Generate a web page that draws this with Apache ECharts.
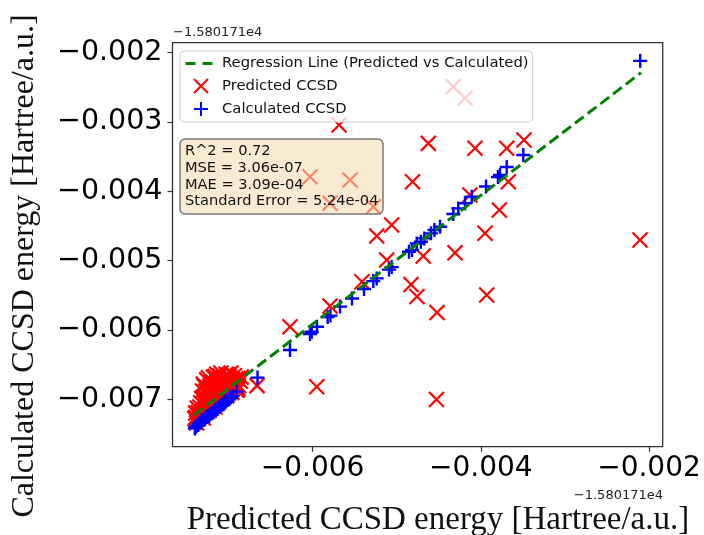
<!DOCTYPE html>
<html>
<head>
<meta charset="utf-8">
<script src="https://cdn.jsdelivr.net/npm/echarts@6/dist/echarts.min.js"></script>
<style>
  html, body { margin: 0; padding: 0; background: #fff; }
  #main { width: 704px; height: 535px; }
</style>
</head>
<body>
<div id="main"></div>
<script>
// values are relative to the offset -1.580171e4 Hartree
var xTicks = [-0.006, -0.004, -0.002];
var yTicks = [-0.007, -0.006, -0.005, -0.004, -0.003, -0.002];

// regression line end points (predicted vs calculated)
var regressionLine = [[-0.007412, -0.007228], [-0.002095, -0.002289]];

// predicted CCSD, scattered points
var predictedPoints = [
    [-0.004327, -0.002491], [-0.004188, -0.002658], [-0.005686, -0.003044], [-0.004624, -0.003308],
    [-0.004069, -0.003380], [-0.003692, -0.003380], [-0.003486, -0.003260], [-0.006031, -0.003790],
    [-0.005555, -0.003837], [-0.004812, -0.003862], [-0.003673, -0.003862], [-0.005793, -0.004173],
    [-0.005278, -0.004223], [-0.004129, -0.004054], [-0.003780, -0.004270], [-0.005060, -0.004487],
    [-0.005238, -0.004645], [-0.003950, -0.004606], [-0.002107, -0.004703], [-0.004685, -0.004934],
    [-0.004307, -0.004886], [-0.005119, -0.004992], [-0.004830, -0.005345], [-0.004759, -0.005518],
    [-0.003930, -0.005497], [-0.004521, -0.005749], [-0.005413, -0.005305], [-0.005793, -0.005655],
    [-0.006269, -0.005954], [-0.005951, -0.006820], [-0.006661, -0.006803], [-0.004527, -0.007002],
    [-0.006899, -0.006868]
];

// predicted CCSD, dense group at the low end
var predictedCluster = [
    [-0.00740, -0.00728], [-0.00739, -0.00720], [-0.00738, -0.00734], [-0.00737, -0.00713], [-0.00735, -0.00725],
    [-0.00733, -0.00705], [-0.00731, -0.00717], [-0.00730, -0.00678], [-0.00730, -0.00727], [-0.00729, -0.00697],
    [-0.00728, -0.00710], [-0.00727, -0.00688], [-0.00726, -0.00672], [-0.00725, -0.00702], [-0.00724, -0.00684],
    [-0.00723, -0.00716], [-0.00722, -0.00693], [-0.00721, -0.00676], [-0.00720, -0.00707], [-0.00719, -0.00688],
    [-0.00718, -0.00668], [-0.00717, -0.00699], [-0.00716, -0.00711], [-0.00715, -0.00680], [-0.00714, -0.00664],
    [-0.00713, -0.00694], [-0.00712, -0.00704], [-0.00711, -0.00673], [-0.00710, -0.00686], [-0.00709, -0.00662],
    [-0.00708, -0.00697], [-0.00707, -0.00677], [-0.00706, -0.00669], [-0.00705, -0.00690], [-0.00704, -0.00682],
    [-0.00703, -0.00664], [-0.00702, -0.00695], [-0.00701, -0.00674], [-0.00700, -0.00686], [-0.00699, -0.00668],
    [-0.00698, -0.00679], [-0.00697, -0.00662], [-0.00696, -0.00690], [-0.00695, -0.00672], [-0.00694, -0.00683],
    [-0.00693, -0.00666], [-0.00692, -0.00677], [-0.00690, -0.00686], [-0.00689, -0.00670], [-0.00688, -0.00680],
    [-0.00686, -0.00674], [-0.00685, -0.00668],
    [-0.00739, -0.00726], [-0.00736, -0.00719], [-0.00734, -0.00711], [-0.00732, -0.00699], [-0.00731, -0.00688],
    [-0.00729, -0.00681], [-0.00727, -0.00703], [-0.00725, -0.00692], [-0.00724, -0.00669], [-0.00722, -0.00681],
    [-0.00721, -0.00699], [-0.00719, -0.00676], [-0.00717, -0.00684], [-0.00716, -0.00667], [-0.00714, -0.00689],
    [-0.00712, -0.00678], [-0.00710, -0.00666], [-0.00709, -0.00692], [-0.00707, -0.00683], [-0.00705, -0.00675],
    [-0.00703, -0.00687], [-0.00701, -0.00665], [-0.00699, -0.00681], [-0.00697, -0.00672], [-0.00694, -0.00676],
    [-0.00691, -0.00670], [-0.00689, -0.00684]
];

// calculated CCSD
var calculatedPoints = [
    [-0.002105, -0.002118], [-0.003495, -0.003476], [-0.003692, -0.003650], [-0.003772, -0.003765],
    [-0.003796, -0.003794], [-0.003938, -0.003931], [-0.004108, -0.004078], [-0.004188, -0.004173],
    [-0.004268, -0.004246], [-0.004327, -0.004328], [-0.004485, -0.004511], [-0.004551, -0.004559],
    [-0.004592, -0.004606], [-0.004672, -0.004679], [-0.004712, -0.004728], [-0.004762, -0.004751],
    [-0.004818, -0.004847], [-0.004854, -0.004872], [-0.005060, -0.005093], [-0.005092, -0.005129],
    [-0.005238, -0.005256], [-0.005278, -0.005295], [-0.005389, -0.005410], [-0.005532, -0.005547],
    [-0.005674, -0.005663], [-0.005788, -0.005793], [-0.005821, -0.005814], [-0.005948, -0.005954],
    [-0.006011, -0.006026], [-0.006031, -0.006059], [-0.006269, -0.006290], [-0.006655, -0.006687],
    [-0.006904, -0.006892]
];

var calculatedCluster = [
    [-0.00740, -0.00742], [-0.00739, -0.00740], [-0.00738, -0.00738], [-0.00736, -0.00737], [-0.00735, -0.00735],
    [-0.00733, -0.00734], [-0.00732, -0.00731], [-0.00730, -0.00730], [-0.00728, -0.00729], [-0.00727, -0.00726],
    [-0.00725, -0.00725], [-0.00723, -0.00724], [-0.00722, -0.00721], [-0.00720, -0.00720], [-0.00718, -0.00719],
    [-0.00717, -0.00716], [-0.00715, -0.00715], [-0.00713, -0.00714], [-0.00711, -0.00711], [-0.00710, -0.00710],
    [-0.00708, -0.00708], [-0.00706, -0.00707], [-0.00705, -0.00704], [-0.00703, -0.00703], [-0.00701, -0.00701],
    [-0.00699, -0.00700], [-0.00697, -0.00697], [-0.00695, -0.00695]
];

var statsText = [
    'R^2 = 0.72',
    'MSE = 3.06e-07',
    'MAE = 3.09e-04',
    'Standard Error = 5.24e-04'
];

var crossPath = 'path://M0,0L10,10M10,0L0,10';
var plusPath = 'path://M5,0L5,10M0,5L10,5';
// two dashes, with tiny corner marks so the icon keeps a 32x14 box
var dashIcon = 'path://M0,0L0.01,0L0,0.01Z M0.5,5.5L10.5,5.5L10.5,8.5L0.5,8.5Z M17.5,5.5L27.5,5.5L27.5,8.5L17.5,8.5Z M32,14L31.99,14L32,13.99Z';

function tickFmt(v) {
    return '\u2212' + Math.abs(v).toFixed(3);
}

var myChart = echarts.init(document.getElementById('main'));

var option = {
    animation: false,
    backgroundColor: '#fff',
    textStyle: { fontFamily: 'DejaVu Sans' },
    grid: {
        left: 172.5, right: 41.3, top: 42.7, bottom: 88.3,
        show: true, borderColor: '#333', borderWidth: 1.3, backgroundColor: 'transparent'
    },
    title: {
        text: statsText.join('\n'),
        left: 180, top: 139,
        padding: [4, 5, 4, 5],
        backgroundColor: 'rgba(245,222,179,0.6)',
        borderColor: '#7a7a7a', borderWidth: 1.5, borderRadius: 5,
        textStyle: {
            fontFamily: 'DejaVu Sans', fontSize: 14.6, fontWeight: 'normal',
            color: '#111', lineHeight: 16.7
        },
        z: 10
    },
    legend: {
        orient: 'vertical',
        left: 180, top: 51,
        padding: [5, 4, 5, 5],
        itemWidth: 32, itemHeight: 14, itemGap: 7,
        backgroundColor: 'rgba(255,255,255,0.8)',
        borderColor: '#d0d0d0', borderWidth: 1, borderRadius: 4,
        textStyle: { fontFamily: 'DejaVu Sans', fontSize: 14.8, color: '#111' },
        data: [
            { name: 'Regression Line (Predicted vs Calculated)', icon: dashIcon,
              itemStyle: { color: '#008000' } },
            'Predicted CCSD',
            'Calculated CCSD'
        ],
        z: 8
    },
    xAxis: {
        type: 'value',
        min: -0.007666, max: -0.001837,
        splitLine: { show: false },
        axisLine: { show: false },
        axisTick: { show: true, inside: false, length: 5, customValues: xTicks,
            lineStyle: { color: '#333', width: 1.2 } },
        axisLabel: { customValues: xTicks, formatter: tickFmt, margin: 8,
            fontFamily: 'DejaVu Sans', fontSize: 28, color: '#000' }
    },
    yAxis: {
        type: 'value',
        min: -0.007684, max: -0.001856,
        splitLine: { show: false },
        axisLine: { show: false },
        axisTick: { show: true, inside: false, length: 5, customValues: yTicks,
            lineStyle: { color: '#333', width: 1.2 } },
        axisLabel: { customValues: yTicks, formatter: tickFmt, margin: 10,
            fontFamily: 'DejaVu Sans', fontSize: 28.5, color: '#000' }
    },
    graphic: [
        { type: 'text', left: 173, top: 26,
          style: { text: '\u22121.580171e4', font: '13px "DejaVu Sans"', fill: '#222' } },
        { type: 'text', right: 41, top: 489,
          style: { text: '\u22121.580171e4', font: '13px "DejaVu Sans"', fill: '#222' } },
        // axis titles
        { type: 'text', x: 438, y: 520,
          style: { text: 'Predicted CCSD energy [Hartree/a.u.]', font: '33px "Liberation Serif"',
                   fill: '#111', align: 'center', verticalAlign: 'middle' } },
        { type: 'text', x: 25, y: 266, rotation: Math.PI / 2,
          style: { text: 'Calculated CCSD energy [Hartree/a.u.]', font: '32px "Liberation Serif"',
                   fill: '#111', align: 'center', verticalAlign: 'middle' } }
    ],
    series: [
        {
            name: 'Regression Line (Predicted vs Calculated)',
            type: 'line',
            data: regressionLine,
            showSymbol: false, symbol: 'none',
            lineStyle: { color: '#008000', width: 3, type: [11, 5] },
            itemStyle: { color: '#008000' },
            z: 5
        },
        {
            name: 'Predicted CCSD',
            type: 'scatter',
            data: predictedPoints.concat(predictedCluster),
            symbol: crossPath, symbolSize: 15, symbolKeepAspect: true,
            itemStyle: { color: '#ff0000', borderColor: '#ff0000', borderWidth: 2.2, opacity: 1 },
            z: 2
        },
        {
            name: 'Calculated CCSD',
            type: 'scatter',
            data: calculatedPoints.concat(calculatedCluster),
            symbol: plusPath, symbolSize: 14, symbolKeepAspect: true,
            itemStyle: { color: '#0000ff', borderColor: '#0000ff', borderWidth: 2.4, opacity: 1 },
            z: 3
        }
    ]
};

myChart.setOption(option);
window.addEventListener('resize', function () {
    myChart.resize();
});
</script>
</body>
</html>
